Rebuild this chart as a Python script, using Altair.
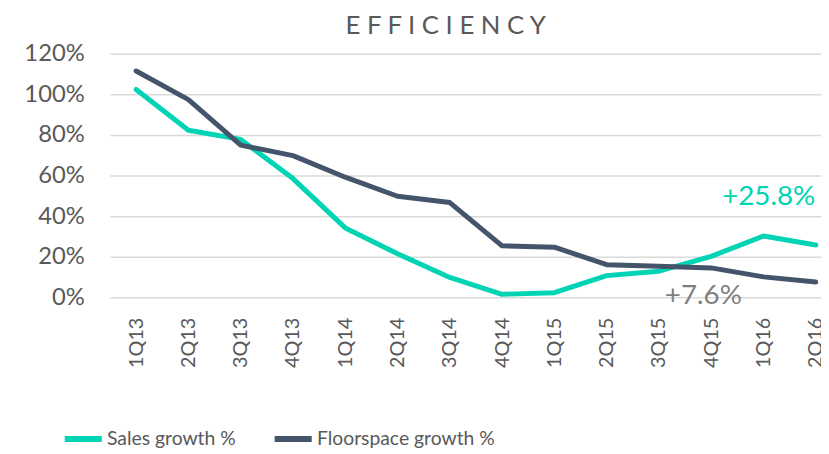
import json
import altair as alt
import pandas as pd

quarters = ["1Q13", "2Q13", "3Q13", "4Q13", "1Q14", "2Q14", "3Q14", "4Q14",
            "1Q15", "2Q15", "3Q15", "4Q15", "1Q16", "2Q16"]
sales_growth = [102.4, 82.3, 77.8, 58.5, 34.2, 21.5, 9.8, 1.5, 2.3, 10.7, 12.9, 20.2, 30.2, 25.8]
floorspace_growth = [111.5, 97.4, 75.0, 69.8, 59.2, 49.8, 46.7, 25.4, 24.7, 16.1, 15.3, 14.5, 10.1, 7.6]
series_names = ["Sales growth %", "Floorspace growth %"]
series_colors = ["#00D4B4", "#44546A"]

ann_text = ["+25.8%", "+7.6%"]
ann_x = [12.1, 10.85]
ann_y = [49.5, 0.5]
ann_color = ["#00D4B4", "#7F7F7F"]

rows = []
for i, q in enumerate(quarters):
    rows.append({"idx": i, "quarter": q, "series": series_names[0], "value": sales_growth[i]})
    rows.append({"idx": i, "quarter": q, "series": series_names[1], "value": floorspace_growth[i]})
df = pd.DataFrame(rows)
ann = pd.DataFrame({"text": ann_text, "x": ann_x, "y": ann_y, "color": ann_color})

label_expr = json.dumps(quarters) + "[round(datum.value)]"

FONT = "Lato"
GRAY = "#595959"

x_scale = alt.Scale(domain=[-0.5, 13.1], nice=False, zero=False)
y_scale = alt.Scale(domain=[0, 120], nice=False)

lines = alt.Chart(df).mark_line(strokeWidth=5, strokeCap="round", strokeJoin="round").encode(
    x=alt.X("idx:Q", scale=x_scale,
            axis=alt.Axis(values=list(range(len(quarters))), labelExpr=label_expr,
                          labelAngle=-90, labelAlign="right", labelBaseline="middle",
                          labelPadding=20, labelFontSize=20, labelColor=GRAY, labelFont=FONT,
                          ticks=False, domain=False, grid=False, title=None)),
    y=alt.Y("value:Q", scale=y_scale,
            axis=alt.Axis(values=[0, 20, 40, 60, 80, 100, 120], labelExpr="datum.value + '%'",
                          labelFontSize=24, labelColor=GRAY, labelFont=FONT, labelPadding=26,
                          ticks=False, domain=False, gridColor="#D9D9D9", gridWidth=1.5,
                          title=None)),
    color=alt.Color("series:N", sort=series_names,
                    scale=alt.Scale(domain=series_names, range=series_colors),
                    legend=alt.Legend(orient="none", direction="horizontal", legendX=-49, legendY=367,
                                      title=None, symbolType="stroke", symbolStrokeWidth=6,
                                      symbolSize=1400, labelFontSize=19.5, labelFont=FONT,
                                      labelColor=GRAY, labelOffset=2, columnPadding=26,
                                      labelLimit=400)),
    order="idx:Q",
)

texts = alt.Chart(ann).mark_text(fontSize=28, font=FONT, align="center", baseline="middle").encode(
    x=alt.X("x:Q", scale=x_scale),
    y=alt.Y("y:Q", scale=y_scale),
    text="text:N",
    color=alt.Color("color:N", scale=None),
)

chart = alt.layer(lines, texts).properties(
    width=718,
    height=246,
    padding={"left": 103, "top": 44, "right": 0, "bottom": 156},
    autosize=alt.AutoSizeParams(type="none"),
    title=alt.TitleParams("E F F I C I E N C Y", fontSize=26, font=FONT, fontWeight="normal",
                          color=GRAY, anchor="middle", dx=-20, offset=3),
).configure_view(stroke=None)

chart.save("out.html", embed_options={"renderer": "svg", "actions": False})
